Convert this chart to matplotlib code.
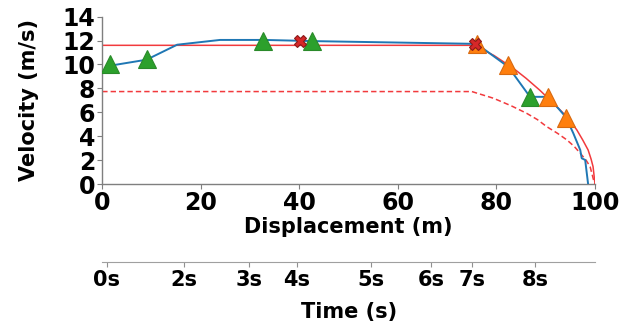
import matplotlib
matplotlib.use("Agg")
import matplotlib.pyplot as plt

# Measured (blue) trajectory
meas_x = [1.6, 9.0, 15.2, 23.9, 33.0, 40.0, 43.0, 76.0, 82.4, 86.8, 90.5, 94.1, 95.6, 97.0, 97.3, 98.0, 98.6]
meas_v = [9.9, 10.4, 11.65, 12.05, 12.05, 11.98, 11.95, 11.72, 9.8, 7.3, 7.3, 5.6, 4.25, 2.86, 2.17, 2.03, 0.0]

# Planned profile (red solid)
plan_x = [0, 75.5, 79.5, 83.4, 86.0, 88.8, 91.0, 92.9, 94.7, 96.3, 97.5, 98.6, 99.2, 99.6, 100.0]
plan_v = [11.6, 11.6, 10.75, 9.69, 8.85, 7.85, 6.98, 6.21, 5.45, 4.54, 3.7, 2.86, 2.1, 1.47, 0.0]

# Reference profile (red dashed)
ref_x = [0, 75.0, 79.4, 83.0, 86.1, 88.3, 90.2, 92.4, 94.3, 95.8, 97.0, 98.2, 99.0, 99.7, 100.0]
ref_v = [7.74, 7.74, 7.18, 6.55, 5.93, 5.4, 4.81, 4.25, 3.7, 3.15, 2.59, 2.0, 1.47, 0.36, 0.0]

# Markers
green_x = [1.6, 9.0, 32.7, 42.5, 86.8]
green_v = [10.0, 10.5, 12.0, 11.95, 7.32]
orange_x = [76.0, 82.4, 90.5, 94.1]
orange_v = [11.67, 9.93, 7.3, 5.55]
cross_x = [40.1, 75.6]
cross_v = [11.92, 11.72]

# Time axis
time_pos = [0.9, 16.6, 29.8, 39.5, 54.5, 66.8, 75.1, 87.9]
time_labels = ["0s", "2s", "3s", "4s", "5s", "6s", "7s", "8s"]

x_ticks = [0, 20, 40, 60, 80, 100]
y_ticks = [0, 2, 4, 6, 8, 10, 12, 14]

fig = plt.figure(figsize=(6.31, 3.25), dpi=100)
ax = fig.add_axes([0.162, 0.433, 0.943 - 0.162, 0.949 - 0.433])

spine_col = "#7f7f7f"
red = "#f23a3d"

ax.plot(plan_x, plan_v, color=red, lw=1.1, zorder=2)
ax.plot(ref_x, ref_v, color=red, lw=1.1, ls=(0, (3.5, 2)), zorder=2)
ax.plot(meas_x, meas_v, color="#1f77b4", lw=1.4, zorder=3)
ax.plot(green_x, green_v, ls="none", marker="^", ms=12.5, color="#2ca02c",
        mec="#2a8a2a", mew=0.8, zorder=4)
ax.plot(orange_x, orange_v, ls="none", marker="^", ms=12.5, color="#ff7f0e",
        mec="#d86a10", mew=0.8, zorder=4)
ax.plot(cross_x, cross_v, ls="none", marker="X", ms=9, color="#d62728",
        mec="#8b1a1a", mew=0.8, zorder=5)

ax.set_xlim(0, 100)
ax.set_ylim(0, 14)
ax.set_xticks(x_ticks)
ax.set_yticks(y_ticks)
for s in ["top", "right"]:
    ax.spines[s].set_visible(False)
for s in ["left", "bottom"]:
    ax.spines[s].set_color(spine_col)
    ax.spines[s].set_linewidth(1.0)
ax.tick_params(colors=spine_col, labelcolor="black", length=3.5, width=0.8, pad=1.5)
for lab in ax.get_xticklabels() + ax.get_yticklabels():
    lab.set_fontsize(17)
    lab.set_fontweight("bold")
ax.set_xlabel("Displacement (m)", fontsize=15, fontweight="bold", labelpad=1.5)
ax.set_ylabel("Velocity (m/s)", fontsize=15, fontweight="bold", labelpad=17)

ax2 = ax.twiny()
ax2.set_xlim(ax.get_xlim())
ax2.xaxis.set_ticks_position("bottom")
ax2.xaxis.set_label_position("bottom")
ax2.spines["bottom"].set_position(("outward", 56))
for s in ["top", "right", "left"]:
    ax2.spines[s].set_visible(False)
ax2.spines["bottom"].set_color("#a0a0a0")
ax2.set_xticks(time_pos)
ax2.set_xticklabels(time_labels, fontsize=15, fontweight="bold")
ax2.tick_params(colors="#909090", labelcolor="black", length=3.5, width=0.8, pad=2)
ax2.set_xlabel("Time (s)", fontsize=15, fontweight="bold", labelpad=9)

fig.savefig("out.png", dpi=100)
